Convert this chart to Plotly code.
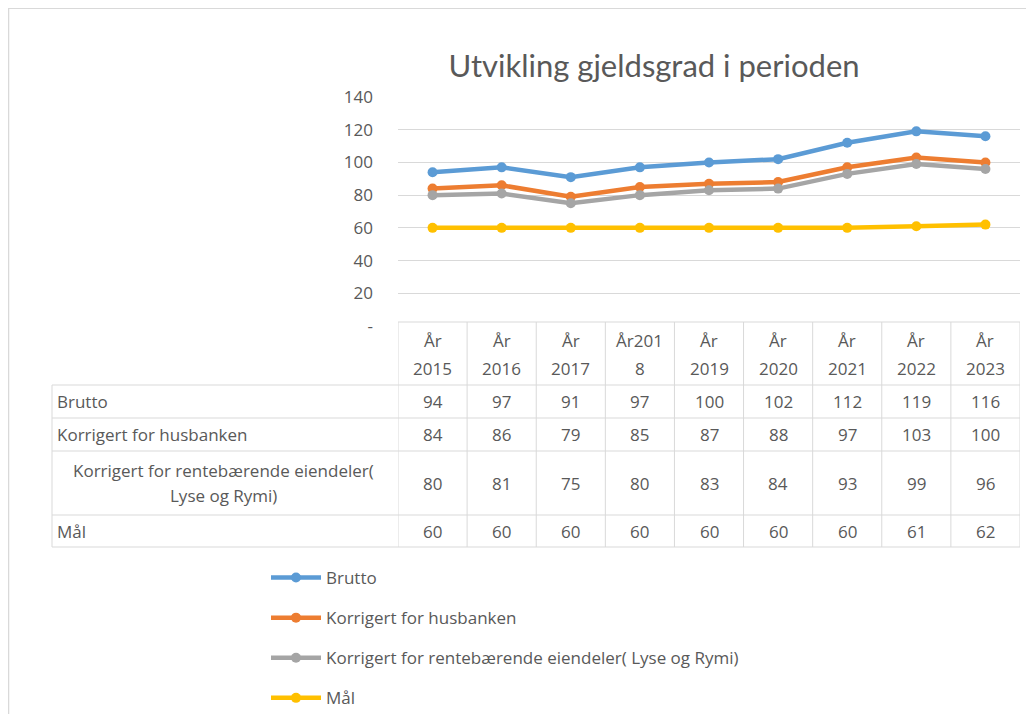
import plotly.graph_objects as go

# ---------------- data ----------------
categories = ["År 2015", "År 2016", "År 2017", "År2018", "År 2019",
              "År 2020", "År 2021", "År 2022", "År 2023"]
header_labels = ["År<br>2015", "År<br>2016", "År<br>2017", "År201<br>8", "År<br>2019",
                 "År<br>2020", "År<br>2021", "År<br>2022", "År<br>2023"]
series_names = ["Brutto", "Korrigert for husbanken",
                "Korrigert for rentebærende eiendeler( Lyse og Rymi)", "Mål"]
row_labels = ["Brutto", "Korrigert for husbanken",
              "Korrigert for rentebærende eiendeler(<br>Lyse og Rymi)", "Mål"]
brutto = [94, 97, 91, 97, 100, 102, 112, 119, 116]
husbanken = [84, 86, 79, 85, 87, 88, 97, 103, 100]
rentebaerende = [80, 81, 75, 80, 83, 84, 93, 99, 96]
maal = [60, 60, 60, 60, 60, 60, 60, 61, 62]
y_tickvals = [0, 20, 40, 60, 80, 100, 120, 140]
y_ticktext = ["-", "20", "40", "60", "80", "100", "120", "140"]

series_values = [brutto, husbanken, rentebaerende, maal]
colors = ["#5B9BD5", "#ED7D31", "#A5A5A5", "#FFC000"]

# ---------------- geometry helpers (figure px) ----------------
W, H = 1018, 706
OFF = 8  # body margin offset


def px(X):
    return (X - OFF) / W


def py(Y):
    return (H - (Y - OFF)) / H


TXT = "#595959"
GRID = "#D9D9D9"
FONT = "Open Sans"
TITLE_FONT = "Lato"

fig = go.Figure()
xs = list(range(len(categories)))
for i, (name, vals) in enumerate(zip(series_names, series_values)):
    fig.add_trace(go.Scatter(
        x=xs, y=vals, name=name, mode="lines+markers",
        line=dict(color=colors[i], width=4.5),
        marker=dict(color=colors[i], size=10, symbol="circle"),
        legendgroup=f"g{i}",
    ))

# ---------------- table ----------------
x_left, x_plot_l, x_plot_r = 52, 398, 1020
y_head_top, y_head_bot = 322, 385
row_bounds = [385, 418, 451, 515, 547]

shapes = []
line_style = dict(color=GRID, width=1)
shapes.append(dict(type="line", xref="x", yref="paper", x0=-0.5, x1=len(categories) - 0.5,
                   y0=py(y_head_top), y1=py(y_head_top), line=line_style))
for yb in row_bounds:
    shapes.append(dict(type="line", xref="paper", yref="paper", x0=px(x_left),
                       x1=px(x_plot_r), y0=py(yb), y1=py(yb), line=line_style))
shapes.append(dict(type="line", xref="paper", yref="paper", x0=px(x_left), x1=px(x_left),
                   y0=py(row_bounds[0]), y1=py(row_bounds[-1]), line=line_style))
for k in range(len(categories) + 1):
    shapes.append(dict(type="line", xref="x", yref="paper", x0=k - 0.5, x1=k - 0.5,
                       y0=py(y_head_top), y1=py(row_bounds[-1]), line=line_style))
# outer chart border
shapes.append(dict(type="rect", xref="paper", yref="paper", x0=0.0005, x1=1.2, y0=-0.2,
                   y1=0.9995, line=dict(color="#D9D9D9", width=1.5)))

annotations = []
tfont = dict(family=FONT, size=17, color=TXT)


def add_lines(text, xc, xref, yc, gap, xanchor="center"):
    parts = text.split("<br>")
    n = len(parts)
    for j, part in enumerate(parts):
        yy = yc + (j - (n - 1) / 2) * gap
        annotations.append(dict(x=xc, y=py(yy), xref=xref, yref="paper", text=part,
                                showarrow=False, font=tfont, xanchor=xanchor,
                                yanchor="middle"))


for k, lab in enumerate(header_labels):
    add_lines(lab, k, "x", (y_head_top + y_head_bot) / 2 + 1, 28)
for r, (lab, vals) in enumerate(zip(row_labels, series_values)):
    ycp = (row_bounds[r] + row_bounds[r + 1]) / 2
    if "<br>" in lab:
        add_lines(lab, px(223), "paper", ycp, 25)
    else:
        add_lines(lab, px(55), "paper", ycp, 25, xanchor="left")
    for k, v in enumerate(vals):
        add_lines(str(v), k, "x", ycp, 25)

fig.update_layout(
    width=W, height=H,
    margin=dict(l=0, r=0, t=0, b=0, autoexpand=False),
    paper_bgcolor="white", plot_bgcolor="white",
    title=dict(text="Utvikling gjeldsgrad i perioden", x=px(654), xanchor="center",
               y=py(66), yanchor="middle",
               font=dict(family=TITLE_FONT, size=31, color=TXT)),
    xaxis=dict(domain=[px(x_plot_l), px(x_plot_r)], range=[-0.5, len(categories) - 0.5],
               showticklabels=False, showgrid=False, zeroline=False, showline=False,
               tickvals=xs, ticktext=categories, fixedrange=True),
    yaxis=dict(domain=[py(326), py(97)], range=[0, 140], tickvals=y_tickvals,
               ticktext=y_ticktext, showgrid=True, gridcolor=GRID, gridwidth=1,
               zeroline=False, showline=False, ticks="", ticklabelstandoff=24,
               tickfont=dict(family=FONT, size=17, color=TXT), fixedrange=True),
    showlegend=True,
    legend=dict(x=px(266), xanchor="left", y=py(560), yanchor="top",
                font=dict(family=FONT, size=17, color=TXT), tracegroupgap=15,
                bgcolor="rgba(0,0,0,0)", itemwidth=50),
    shapes=shapes,
    annotations=annotations,
    font=dict(family=FONT, color=TXT),
)

fig.write_html("out.html")
